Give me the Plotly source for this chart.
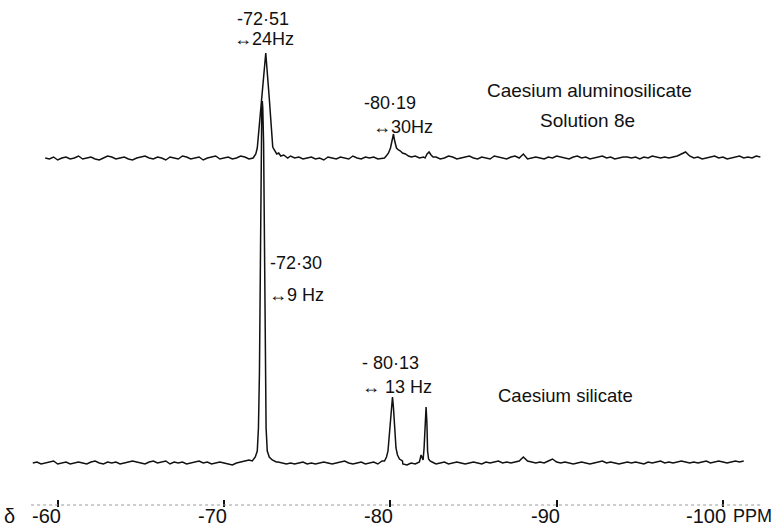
import plotly.graph_objects as go

# --- chemical-shift axis (ppm) ---------------------------------------------
TICK_PPM = [-60, -70, -80, -90, -100]
TICK_TEXT = ["-60", "-70", "-80", "-90", "-100"]

# --- baseline noise, one reading every 0.25 ppm -----------------------------
STEP = 0.25

ALUMINO_START = -59.25
ALUMINO_NOISE = [
    0, -1, 1, -2, 0, 1, -1, 0, 2, -1,
    0, 1, -1, -2, 0, 2, 1, -1, 0, 1,
    -1, -2, 0, 1, 2, 0, -1, 1, 0, -2,
    1, 0, -1, 2, 1, -1, 0, 1, -2, 0,
    1, 2, -1, 0, 1, -1, 0, 2, 1, -1,
    0, -2, 1, 0, 1, -1, 2, 0, 1, 2,
    0, 1, -1, 0, 1, -1, 0, -2, 1, 0,
    -1, 1, 0, -1, 2, 0, -1, 1, 0, 1,
    -1, 0, 1, -2, 0, 1, 0, -1, 1, 2,
    0, 1, -1, 0, 1, -1, 0, 2, 1, -1,
    0, 1, 2, 0, -1, 1, 0, -1, 2, 1,
    0, -1, 1, 2, 0, 4, -1, 0, 1, 0,
    -1, 1, 0, 2, 1, 0, -1, 1, 2, 0,
    1, -1, 0, 1, 2, 0, 1, -1, 0, 1,
    1, 0, 1, -1, 1, 0, 2, 1, 0, 1,
    0, 1, 2, 4, 6, 2, 0, 1, -1, 0,
    1, 2, 0, 1, -1, 0, 1, 2, 0, 1,
    0, 2, 1,
]

SILICATE_START = -58.5
SILICATE_NOISE = [
    0, 1, -1, 0, 1, 2, -1, 0, 1, -1,
    0, 1, 0, -1, 1, 2, 0, -1, 1, 0,
    1, -1, 0, 1, 2, 1, 0, -1, 1, 2,
    0, 1, 2, -1, 1, 0, 1, -1, 0, 1,
    2, 0, 1, -1, 0, 1, 0, -1, -2, 0,
    1, 2, 3, 0, 0, 0, 0, 0, 0, 1,
    0, -1, 0, -1, 0, 1, -1, 0, -1, 0,
    1, 0, -1, 0, 1, 2, 0, -1, 0, 1,
    -1, 0, 1, -1, 2, 0, 0, 0, 0, -1,
    -2, 0, -1, 1, 0, 0, 0, -1, 0, 1,
    -1, 0, 1, 0, -1, 0, 1, 0, -1, 1,
    0, 1, 2, 0, 1, 0, 1, 2, 6, 2,
    1, 0, 1, 0, 2, 4, 1, 0, 1, 0,
    -1, 0, 1, 0, -1, 0, 1, 2, 0, 1,
    0, -1, 0, 1, 0, 1, 0, -1, 1, 0,
    1, 2, 0, 1, 0, 1, 2, 1, 0, 1,
    0, 1, 2, 0, 1, 2, 1, 0, 1, 2,
    1, 2,
]

# --- resonance outlines: shift (ppm) and height above baseline ----------------
# Caesium aluminosilicate, solution 8e
AL_PEAK1_PPM = [-71.79, -71.91, -72.00, -72.27, -72.51, -72.72, -72.93, -72.99,
                -73.08, -73.17, -73.29, -73.41, -73.59, -73.83]
AL_PEAK1_H = [1, 4, 10, 58, 105, 60, 11, 9, 6, 4, 5, 2, 3, 0]
AL_PEAK2_PPM = [-79.65, -79.80, -79.89, -80.01, -80.13, -80.19, -80.25, -80.31,
                -80.37, -80.49, -80.61, -80.73, -80.91, -81.09, -81.27]
AL_PEAK2_H = [0, 3, 5, 10, 20, 24, 18, 12, 10, 8, 7, 5, 4, 2, 1]
AL_PEAK3_PPM = [-82.09, -82.21, -82.33, -82.45, -82.57]
AL_PEAK3_H = [0, 4, 6, 3, 1]

# Caesium silicate
SI_PEAK1_PPM = [-71.70, -71.88, -72.00, -72.07, -72.13, -72.17, -72.22, -72.27,
                -72.30, -72.33, -72.38, -72.43, -72.47, -72.53, -72.60, -72.72,
                -72.90, -73.14]
SI_PEAK1_H = [2, 6, 12, 35, 90, 200, 320, 355, 362, 355, 320, 200, 90, 35, 12,
              6, 3, 1]
SI_PEAK2_PPM = [-79.65, -79.77, -79.86, -79.95, -80.04, -80.13, -80.19, -80.25,
                -80.34, -80.43, -80.55, -80.73]
SI_PEAK2_H = [2, 6, 12, 30, 53, 66, 55, 35, 15, 8, 4, 2]
SI_PEAK3_PPM = [-81.85, -81.91, -81.97, -82.03, -82.09, -82.15, -82.20, -82.24,
                -82.30, -82.39, -82.51]
SI_PEAK3_H = [8, 4, 3, 15, 40, 56, 40, 12, 4, 2, 1]

# vertical placement of the two stacked spectra
ALUMINO_OFFSET = 370
SILICATE_OFFSET = 65


def build_trace(start, noise, peaks, offset):
    """Merge the baseline readings with the peak outlines, ordered by shift."""
    windows = [(min(p), max(p)) for p, _ in peaks]
    pts = []
    for i, v in enumerate(noise):
        ppm = start - i * STEP
        if any(lo <= ppm <= hi for lo, hi in windows):
            continue
        pts.append((ppm, v))
    for p, h in peaks:
        pts.extend(zip(p, h))
    pts.sort(key=lambda t: -t[0])
    return [q[0] for q in pts], [q[1] + offset for q in pts]


al_x, al_y = build_trace(
    ALUMINO_START, ALUMINO_NOISE,
    [(AL_PEAK1_PPM, AL_PEAK1_H), (AL_PEAK2_PPM, AL_PEAK2_H), (AL_PEAK3_PPM, AL_PEAK3_H)],
    ALUMINO_OFFSET,
)
si_x, si_y = build_trace(
    SILICATE_START, SILICATE_NOISE,
    [(SI_PEAK1_PPM, SI_PEAK1_H), (SI_PEAK2_PPM, SI_PEAK2_H), (SI_PEAK3_PPM, SI_PEAK3_H)],
    SILICATE_OFFSET,
)

fig = go.Figure()
line_style = dict(color="#111111", width=1.5)
fig.add_trace(go.Scatter(x=si_x, y=si_y, mode="lines", line=line_style,
                         hoverinfo="skip", showlegend=False))
fig.add_trace(go.Scatter(x=al_x, y=al_y, mode="lines", line=line_style,
                         hoverinfo="skip", showlegend=False))

FONT = "Liberation Sans"
INK = "#111111"


def label(x, y, text, size=19, anchor="center"):
    fig.add_annotation(x=x, y=y, xref="x", yref="y", text=text, showarrow=False,
                       xanchor=anchor, yanchor="middle",
                       font=dict(family=FONT, size=size, color=INK))


# peak annotations
label(-72.35, 509, "-72·51", 18)
label(-72.41, 489, "↔24Hz", 18)
label(-79.98, 425, "-80·19", 18)
label(-80.76, 401, "↔30Hz", 18)
label(-72.65, 265, "-72·30", 18, "left")
label(-72.59, 233, "↔9 Hz", 18, "left")
label(-78.18, 165, "- 80·13", 18, "left")
label(-78.18, 141, "↔ 13 Hz", 18, "left")

# spectrum titles
label(-91.96, 438, "Caesium aluminosilicate", 19)
label(-91.84, 408, "Solution 8e", 19)
label(-86.36, 133, "Caesium silicate", 18.5, "left")

# chemical-shift scale labels, placed just below the plotting area
SCALE_Y = -0.017
for v, t in zip(TICK_PPM, TICK_TEXT):
    fig.add_annotation(x=v, y=SCALE_Y, xref="x", yref="paper", text=t,
                       showarrow=False, xanchor="right", yanchor="middle",
                       xshift=5, font=dict(family=FONT, size=20, color=INK))
fig.add_annotation(x=-57.13, y=SCALE_Y, xref="x", yref="paper", text="δ",
                   showarrow=False, xanchor="center", yanchor="middle",
                   font=dict(family=FONT, size=20, color=INK))
fig.add_annotation(x=TICK_PPM[-1], y=SCALE_Y, xref="x", yref="paper", text="PPM",
                   showarrow=False, xanchor="left", yanchor="middle", xshift=8,
                   font=dict(family=FONT, size=18, color=INK))

# faint dotted scale line
fig.add_shape(type="line", xref="x", yref="y", x0=-58.4, x1=-102.4, y0=23, y1=23,
              line=dict(color="#9a9a9a", width=1, dash="dot"))

fig.update_layout(
    width=773, height=528,
    margin=dict(l=0, r=0, t=0, b=21),
    paper_bgcolor="white", plot_bgcolor="white",
    xaxis=dict(range=[-56.53, -103.01], showgrid=False, zeroline=False,
               showline=False, tickvals=TICK_PPM, ticks="inside", ticklen=7,
               tickwidth=2, tickcolor=INK, showticklabels=False),
    yaxis=dict(range=[21, 528], visible=False),
)

fig.write_html("out.html")
